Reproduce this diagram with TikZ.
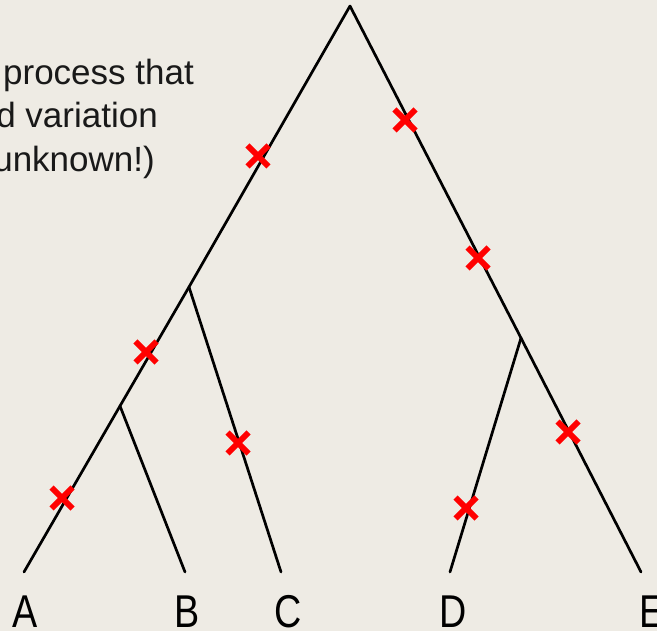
\documentclass[tikz,border=0pt]{standalone}
\usepackage{fontspec}
\setmainfont{Liberation Sans}
\begin{document}
\begin{tikzpicture}[x=1pt,y=-1pt,
  branch/.style={line width=2.7pt,line cap=round},
  mut/.style={red,line width=6pt},
  leaflabel/.style={anchor=base,font=\fontsize{46}{46}\selectfont,xscale=0.82,inner sep=0pt},
  note/.style={anchor=base east,font=\fontsize{35}{35}\selectfont,inner sep=0pt,text=black!90}]
\definecolor{bgc}{HTML}{EEEBE4}
\fill[bgc] (0,0) rectangle (657,631);
\useasboundingbox (0,0) rectangle (657,631);
\begin{scope}
\clip (0,0) rectangle (657,631);
\node[note] (t1) at (194,85) {process that};
\node[note] (t2) at (158,128) {d variation};
\node[note] (t3) at (155,172) {unknown!)};
\end{scope}
% tree junctions
\coordinate (root) at (350,6);
\coordinate (L) at (189,287);
\coordinate (LL) at (120,406);
\coordinate (R) at (521,338);
\coordinate (a) at (24,572);
\coordinate (b) at (185,572);
\coordinate (c) at (281,572);
\coordinate (d) at (450,572);
\coordinate (e) at (641,572);
\draw[branch] (root) -- (L);
\draw[branch] (L) -- (LL);
\draw[branch] (LL) -- (a);
\draw[branch] (LL) -- (b);
\draw[branch] (L) -- (c);
\draw[branch] (root) -- (R);
\draw[branch] (R) -- (d);
\draw[branch] (R) -- (e);
% labels
\node[leaflabel] (la) at (25,627) {A};
\node[leaflabel] (lb) at (187,627) {B};
\node[leaflabel] (lc) at (288,627) {C};
\node[leaflabel] (ld) at (453,627) {D};
\node[leaflabel] (le) at (652,627) {E};
% mutations
\foreach \p [count=\i] in {(258,156),(405,120),(478,258),(146,352),(238,443),(62,498),(466,508),(568,432)}{
  \draw[mut] \p ++(-10.5,-10.5) -- ++(21,21);
  \draw[mut] \p ++(-10.5,10.5) -- ++(21,-21);
}
\end{tikzpicture}
\end{document}
